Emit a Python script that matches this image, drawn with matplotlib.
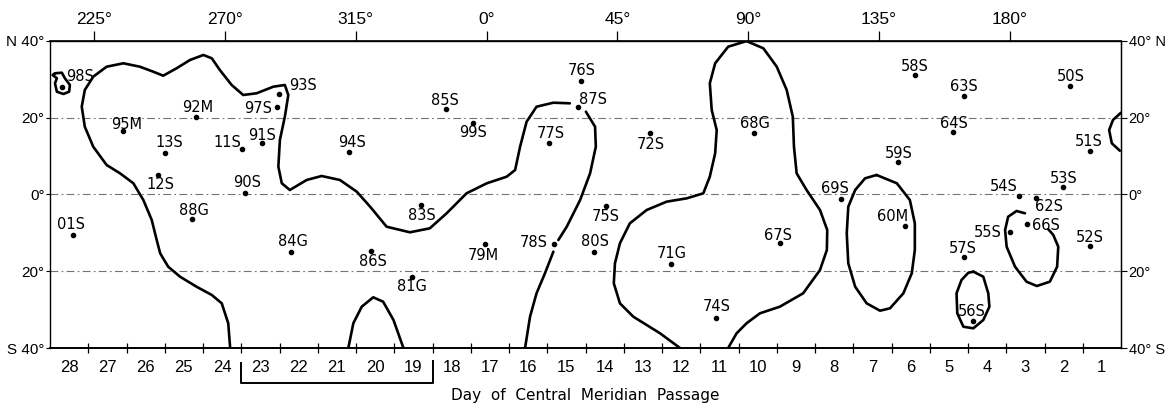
import numpy as np
import matplotlib
matplotlib.use('Agg')
import matplotlib.pyplot as plt

# spot groups: label, day of central meridian passage, latitude (deg, +N)
names = ['98S', '92M', '97S', '93S', '95M', '13S', '11S', '91S', '94S', '12S',
         '90S', '88G', '01S', '84G', '86S', '76S', '87S', '85S', '99S', '77S',
         '72S', '68G', '83S', '75S', '78S', '80S', '79M', '71G', '67S', '58S',
         '63S', '50S', '64S', '51S', '59S', '53S', '69S', '54S', '62S', '60M',
         '66S', '55S', '52S', '57S', '81G', '74S', '56S']
days = [28.18, 24.68, 22.57, 22.51, 26.58, 25.49, 23.49, 22.95, 20.68, 25.68,
        23.40, 24.78, 27.89, 22.21, 20.11, 14.63, 14.69, 18.15, 17.43, 15.45,
        12.81, 10.09, 18.81, 13.97, 15.32, 14.28, 17.12, 12.26, 9.42, 5.89,
        4.61, 1.83, 4.90, 1.31, 6.34, 2.01, 7.82, 3.17, 2.73, 6.15,
        2.97, 3.40, 1.31, 4.61, 19.03, 11.10, 4.38]
lats = [27.87, 20.06, 22.82, 26.13, 16.49, 10.84, 11.81, 13.29, 11.03, 5.12,
        0.27, -6.50, -10.58, -14.93, -14.75, 29.59, 22.66, 22.14, 18.65, 13.45,
        15.89, 16.05, -2.77, -3.03, -12.93, -15.09, -12.93, -18.13, -12.74, 31.07,
        25.61, 28.21, 16.31, 11.36, 8.34, 1.84, -1.21, -0.51, -0.87, -8.24,
        -7.72, -9.88, -13.45, -16.39, -21.44, -32.27, -32.97]

# label placement (pixels from the dot)
label_off = [(18, 11), (2, 10), (-19, -2), (24, 8), (3, 7), (4, 10), (-14, 6), (0, 8), (3, 9), (3, -10),
             (2, 11), (2, 9), (-2, 10), (2, 10), (2, -10), (1, 10), (15, 8), (-1, 9), (0, -10), (2, 9),
             (1, -11), (1, 9), (1, -11), (0, -11), (-20, 2), (1, 11), (-2, -11), (1, 10), (-2, 8), (0, 9),
             (0, 9), (1, 9), (1, 8), (-1, 9), (1, 9), (0, 9), (-6, 10), (-15, 10), (13, -9), (-12, 10),
             (19, -1), (-22, 0), (0, 9), (-1, 9), (0, -10), (1, 12), (-1, 9)]

# boundary curves (day, latitude)
big_a_day = [23.79, 23.84, 24.01, 24.27, 24.67, 25.10, 25.41, 25.62, 25.71, 25.84, 26.06, 26.32, 26.67,
             27.02, 27.37, 27.59, 27.67, 27.59, 27.37, 27.02, 26.58, 26.15, 25.80, 25.54, 25.19, 24.84,
             24.49, 24.27, 24.06, 23.75, 23.45, 23.10, 22.66, 22.36, 22.27, 22.36, 22.49, 22.53, 22.44,
             22.23, 21.79, 21.40, 20.92, 20.48, 20.13, 19.70, 19.09, 18.57, 18.13, 17.61, 17.08, 16.56,
             16.34, 16.21, 16.04, 15.78, 15.34, 14.91]
big_a_lat = [-40, -33.57, -28.37, -26.20, -24.04, -21.44, -18.84, -15.35, -11.89, -6.68, -1.47, 2.88, 5.48,
             7.64, 12.41, 17.61, 22.82, 27.17, 30.63, 33.23, 34.12, 33.23, 31.93, 30.89, 32.82, 34.98,
             36.28, 35.42, 32.37, 28.47, 25.87, 26.31, 28.03, 28.47, 25.87, 20.22, 14.15, 7.20, 2.88,
             1.13, 3.74, 4.78, 3.74, 0.69, -3.22, -8.42, -9.88, -8.84, -4.93, 0.27, 2.88, 4.60,
             6.34, 12.41, 18.91, 22.82, 23.86, 23.70]
big_b_day = [14.49, 14.25, 14.23, 14.38, 14.64, 14.99, 15.21]
big_b_lat = [21.52, 17.61, 12.41, 5.48, -1.47, -8.42, -11.89]
big_c_day = [15.34, 15.56, 15.78, 15.95, 16.08]
big_c_lat = [-14.93, -20.55, -25.76, -31.85, -40]

blob_day = [28.37, 28.19, 28.11, 27.98, 28.00, 28.15, 28.32, 28.37, 28.32, 28.43, 28.37]
blob_lat = [31.52, 31.67, 30.21, 28.47, 26.72, 26.13, 26.72, 28.91, 30.21, 31.07, 31.52]

arch_day = [20.70, 20.57, 20.35, 20.05, 19.79, 19.52, 19.26]
arch_lat = [-40, -33.57, -29.25, -26.80, -27.95, -32.71, -40]

east_day = [12.03, 12.55, 13.25, 13.60, 13.76, 13.73, 13.60, 13.34, 12.90, 12.38, 11.85, 11.42, 11.25,
            11.11, 11.07, 11.20, 11.25, 11.11, 10.77, 10.29, 9.85, 9.50, 9.24, 9.08, 9.05, 8.98, 8.72,
            8.37, 8.18, 8.19, 8.37, 8.81, 9.42, 9.94, 10.29, 10.55, 10.77]
east_lat = [-40, -36.18, -31.85, -28.37, -23.16, -17.95, -12.74, -7.54, -4.07, -1.91, -1.03, 0.27, 4.60,
            10.69, 16.75, 21.96, 28.91, 34.12, 38.44, 39.9, 38.02, 33.23, 27.17, 20.22, 12.41, 5.48, 1.13,
            -4.07, -9.28, -14.49, -19.70, -25.76, -29.25, -30.97, -33.57, -36.18, -40]

oval_day = [6.89, 6.36, 6.02, 5.89, 5.89, 5.97, 6.19, 6.54, 6.80, 7.15, 7.45, 7.63, 7.67, 7.63, 7.45, 7.19, 6.89]
oval_lat = [5.04, 2.88, -1.47, -7.54, -14.49, -20.55, -25.76, -29.67, -30.29, -28.37, -24.04, -17.95,
            -10.14, -3.22, 1.13, 4.18, 5.04]

loop56_day = [4.36, 4.10, 3.97, 3.94, 4.10, 4.36, 4.62, 4.78, 4.80, 4.67, 4.49, 4.36]
loop56_lat = [-20.14, -21.44, -25.76, -29.25, -32.71, -34.87, -34.46, -30.97, -25.76, -22.30, -20.40, -20.14]

hook_day = [3.01, 3.23, 3.45, 3.53, 3.49, 3.27, 2.97, 2.70, 2.36, 2.17, 2.14, 2.27, 2.40]
hook_lat = [-4.93, -4.33, -5.82, -9.28, -13.63, -18.84, -22.74, -23.86, -22.74, -18.84, -13.63, -10.58, -9.10]

edge_day = [0.5, 0.71, 0.81, 0.74, 0.53]
edge_lat = [21.26, 19.36, 16.75, 13.29, 11.36]

curves = [(big_a_day, big_a_lat), (big_b_day, big_b_lat), (big_c_day, big_c_lat),
          (blob_day, blob_lat), (arch_day, arch_lat), (east_day, east_lat),
          (oval_day, oval_lat), (loop56_day, loop56_lat), (hook_day, hook_lat),
          (edge_day, edge_lat)]

day_ticks = list(range(28, 0, -1))
lon_ticks = [-135, -90, -45, 0, 45, 90, 135, 180]
lon_labels = ['225°', '270°', '315°', '0°', '45°', '90°', '135°', '180°']
lat_ticks = [40, 20, 0, -20, -40]
left_labels = ['N 40°', '20°', '0°', '20°', 'S 40°']
right_labels = ['40° N', '20°', '0°', '20°', '40° S']
bracket_days = [23.5, 18.5]

narrow = ['Liberation Sans Narrow', 'Liberation Sans', 'DejaVu Sans']

fig = plt.figure(figsize=(11.67, 4.05), dpi=100)
ax = fig.add_axes([50 / 1167, 1 - 348 / 405, 1071 / 1167, 307.3 / 405])
ax.set_xlim(28.5, 0.5)
ax.set_ylim(-40, 40)

for y in [20, 0, -20]:
    ax.axhline(y, color='0.45', lw=0.8, ls=(0, (7, 3, 1.5, 3)), zorder=1)

for cd, cl in curves:
    ax.plot(cd, cl, color='black', lw=1.9, solid_capstyle='round', zorder=3)

ax.plot(days, lats, 'o', color='black', ms=3, zorder=4)
for n, d, l, off in zip(names, days, lats, label_off):
    ax.annotate(n, (d, l), xytext=off, textcoords='offset pixels', ha='center', va='center',
                fontsize=10.5, family='DejaVu Sans', zorder=5)

# bottom: day numbers, tick marks between them
ax.set_xticks(day_ticks)
ax.set_xticklabels([str(d) for d in day_ticks], family=narrow, fontsize=12)
ax.tick_params(axis='x', which='major', length=0, pad=9)
ax.set_xticks(np.arange(27.5, 0.9, -1), minor=True)
ax.tick_params(axis='x', which='minor', direction='inout', length=7, width=0.9)

ax.set_yticks(lat_ticks)
ax.set_yticklabels(left_labels, family=narrow, fontsize=11)
ax.tick_params(axis='y', length=3, width=0.8, pad=1)

right = ax.secondary_yaxis('right')
right.set_yticks(lat_ticks)
right.set_yticklabels(right_labels, family=narrow, fontsize=10.5)
right.tick_params(length=4, width=0.8, pad=1.5)


def day_to_lon(d):
    return (17.088 - np.asarray(d)) * 13.154


def lon_to_day(L):
    return 17.088 - np.asarray(L) / 13.154


top = ax.secondary_xaxis('top', functions=(day_to_lon, lon_to_day))
top.set_xticks(lon_ticks)
top.set_xticklabels(lon_labels, family=narrow, fontsize=12.5)
top.tick_params(length=7, width=0.9, pad=3)

for s in ['left', 'right', 'top']:
    ax.spines[s].set_linewidth(1.0)
ax.spines['bottom'].set_linewidth(1.4)
top.spines['top'].set_linewidth(1.2)

# bracket under days 23-19
bd0, bd1 = bracket_days
ax.plot([bd0, bd0, bd1, bd1], [-44.0, -49.0, -49.0, -43.5], color='black', lw=1.4, clip_on=False)

ax.set_xlabel('Day  of  Central  Meridian  Passage', fontsize=11, labelpad=9)

fig.savefig('out.png', dpi=100)
